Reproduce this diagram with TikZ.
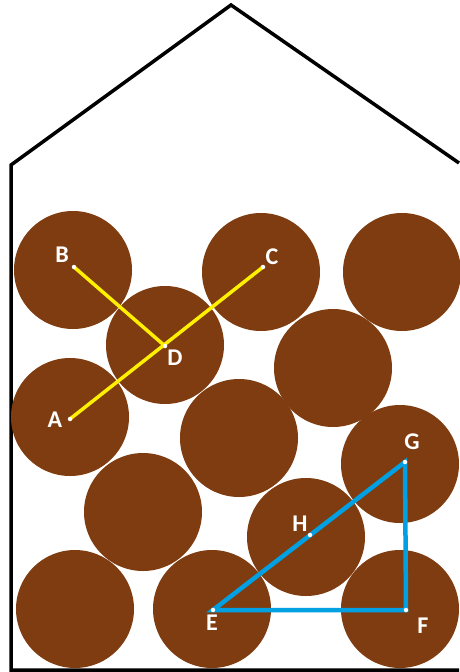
\documentclass[tikz,border=0pt]{standalone}
\usepackage{fontspec}
\setsansfont{Carlito}
\usetikzlibrary{positioning}
\definecolor{GrainBrown}{HTML}{7F3C10}
\definecolor{LinkYellow}{HTML}{FFF000}
\definecolor{LinkBlue}{HTML}{00A0E3}
\tikzset{
  grain/.style={circle, fill=GrainBrown, minimum size=118pt, inner sep=0pt},
  pt/.style={circle, fill=white, minimum size=4.5pt, inner sep=0pt},
  lbl/.style={font=\sffamily\bfseries\fontsize{24}{24}\selectfont, text=white, inner sep=0pt}
}
\begin{document}
\begin{tikzpicture}[x=1pt, y=-1pt]
  \useasboundingbox (0,0) rectangle (459,672);
  % house outline
  \draw[black, line width=3.5pt, line join=miter] (459,163) -- (231,5) -- (11,165) -- (11,670) -- (459,670);
  % grains
  \foreach \x/\y [count=\i] in {73/270, 261/272, 402/272, 165/345, 333/368, 70/417, 239/438,
      400/464, 143/512, 306/537, 75/609, 212/609, 400/609}
    {\node[grain] (g\i) at (\x,\y) {};}
  % yellow links
  \coordinate (A) at (70,419);
  \coordinate (B) at (74,267);
  \coordinate (C) at (263,267);
  \coordinate (D) at (165,346);
  \draw[LinkYellow, line width=3.5pt] (B) -- (D);
  \draw[LinkYellow, line width=3.5pt] (A) -- (C);
  % blue triangle
  \coordinate (E) at (213,610);
  \coordinate (F) at (406,610);
  \coordinate (G) at (405,462);
  \coordinate (H) at (310,535);
  \draw[LinkBlue, line width=4.5pt, line join=miter] (E) -- (F) -- (G) -- cycle;
  \foreach \p in {A,B,C,D,E,F,G,H}{\node[pt] at (\p) {};}
  % labels
  \node[lbl] (lA) at (55,420) {A};
  \node[lbl] (lB) at (62,255) {B};
  \node[lbl] (lC) at (272,257) {C};
  \node[lbl] (lD) at (175,358) {D};
  \node[lbl] (lE) at (212,623) {E};
  \node[lbl] (lF) at (423,626) {F};
  \node[lbl] (lG) at (412,442) {G};
  \node[lbl] (lH) at (300,524) {H};
\end{tikzpicture}
\end{document}
